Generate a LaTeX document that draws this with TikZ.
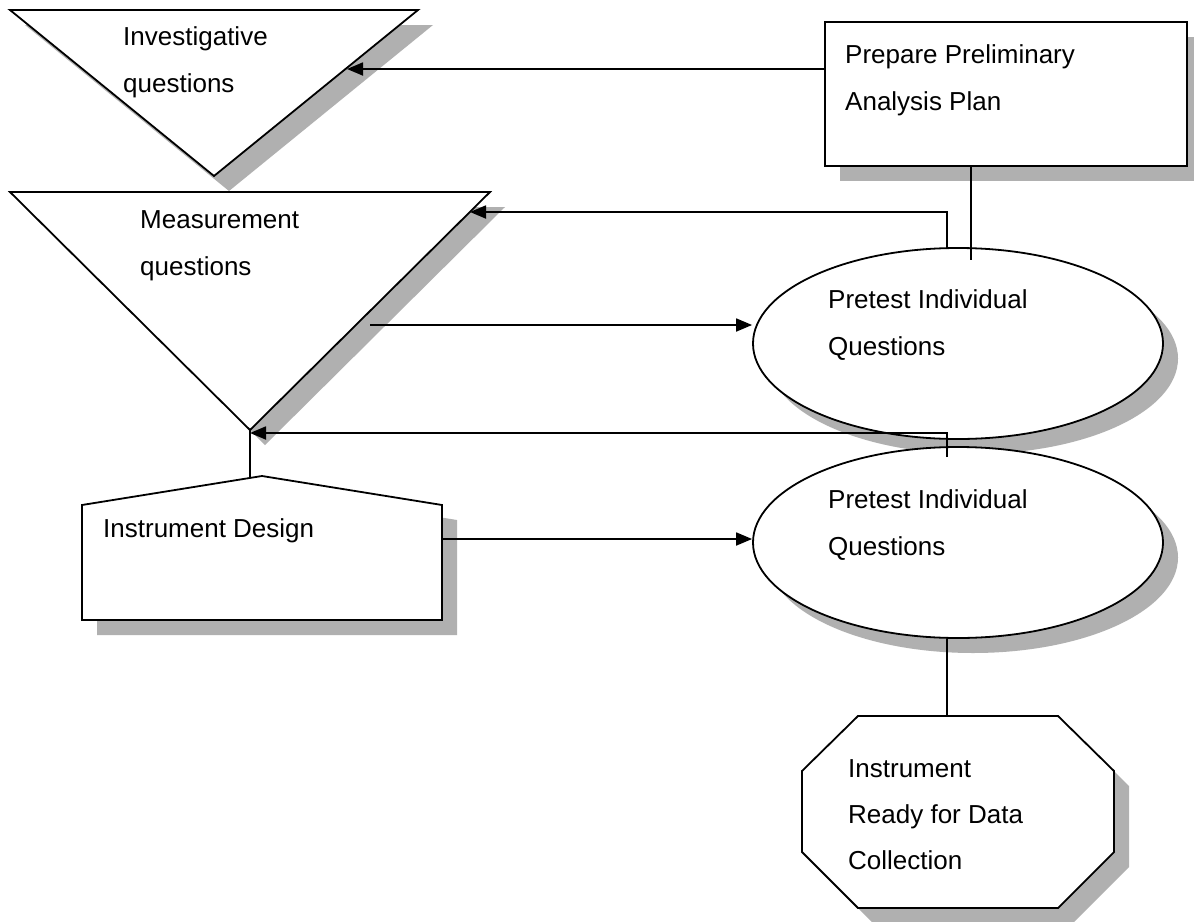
\documentclass[tikz,border=0pt]{standalone}
\usepackage{fontspec}
\setmainfont{Liberation Sans}
\usetikzlibrary{arrows.meta,shapes.geometric}
\begin{document}
\begin{tikzpicture}[x=1pt,y=-1pt,
  outline/.style={draw=black, line width=1.8pt, fill=white, line join=miter},
  shade/.style={fill=gray!62, draw=none},
  conn/.style={draw=black, line width=1.8pt},
  arr/.style={conn, -{Triangle[length=16pt,width=13pt]}},
  % multi-line texts are placed by the baseline of their last line
  txt/.style={anchor=base west, inner sep=0pt, align=left,
              font=\fontsize{26}{47}\selectfont},
  txtb/.style={txt, font=\fontsize{26}{46}\selectfont},
]
\useasboundingbox (0,0) rectangle (1194,921);
\fill[white] (0,0) rectangle (1194,921);

% ---- drop shadows ----
\begin{scope}[shift={(15,15)}]
  \fill[shade] (10,10) -- (418,10) -- (214,176) -- cycle;
  \fill[shade] (10,192) -- (490,192) -- (250,430) -- cycle;
  \fill[shade] (825,22) rectangle (1187,166);
  \fill[shade] (958,343.5) ellipse [x radius=205, y radius=95.5];
  \fill[shade] (958,542.5) ellipse [x radius=205, y radius=95.5];
  \fill[shade] (82,505) -- (262,476) -- (442,505) -- (442,620) -- (82,620) -- cycle;
  \fill[shade] (858,716) -- (1058,716) -- (1114,771) -- (1114,852) --
               (1058,908) -- (858,908) -- (802,852) -- (802,771) -- cycle;
\end{scope}

% ---- shapes ----
\draw[outline] (10,10) coordinate (t1a) -- (418,10) coordinate (t1b)
  -- (214,176) coordinate (t1c) -- cycle;
\draw[outline] (10,192) coordinate (t2a) -- (490,192) coordinate (t2b)
  -- (250,430) coordinate (t2c) -- cycle;
\node[outline, rectangle, inner sep=0pt, minimum width=362pt, minimum height=144pt]
  (plan) at (1006,94) {};
\node[outline, ellipse, inner sep=0pt, minimum width=410pt, minimum height=191pt]
  (pretestA) at (958,343.5) {};
\node[outline, ellipse, inner sep=0pt, minimum width=410pt, minimum height=191pt]
  (pretestB) at (958,542.5) {};
\draw[outline] (82,505) -- (262,476) coordinate (designPeak) -- (442,505)
  -- (442,620) -- (82,620) -- cycle;
\draw[outline] (858,716) -- (1058,716) -- (1114,771) -- (1114,852) --
  (1058,908) -- (858,908) -- (802,852) -- (802,771) -- cycle;

% ---- texts ----
\node[txt] (invText) at (123,92) {Investigative\\questions};
\node[txt] (measText) at (140,275) {Measurement\\questions};
\node[txt] (planText) at (845,110) {Prepare Preliminary\\Analysis Plan};
\node[txt] (pretestAText) at (828,355) {Pretest Individual\\Questions};
\node[txt] (pretestBText) at (828,555) {Pretest Individual\\Questions};
\node[txt] (designText) at (103,537) {Instrument Design};
\node[txtb] (readyText) at (848,869) {Instrument\\Ready for Data\\Collection};

% ---- connection points ----
\coordinate (invIn) at (347,69);
\coordinate (dropA) at (971,260);
\coordinate (fbA) at (947,249);
\coordinate (measIn) at (470,212);
\coordinate (measOut) at (370,325);
\coordinate (fbB) at (947,457);
\coordinate (apexIn) at (250,433);
\coordinate (designTop) at (250,478);
\coordinate (designOut) at (442,539);
\coordinate (readyTop) at (947,716);

% ---- connectors ----
\draw[arr] (plan.west |- invIn) -- (invIn);
\draw[conn] (dropA |- plan.south) -- (dropA);
\draw[arr] (fbA) |- (measIn);
\draw[arr] (measOut) -- (measOut -| pretestA.west);
\draw[arr] (fbB) |- (apexIn);
\draw[conn] (t2c) -- (designTop);
\draw[arr] (designOut) -- (designOut -| pretestB.west);
\draw[conn] (readyTop |- pretestB.south) -- (readyTop);
\end{tikzpicture}
\end{document}
